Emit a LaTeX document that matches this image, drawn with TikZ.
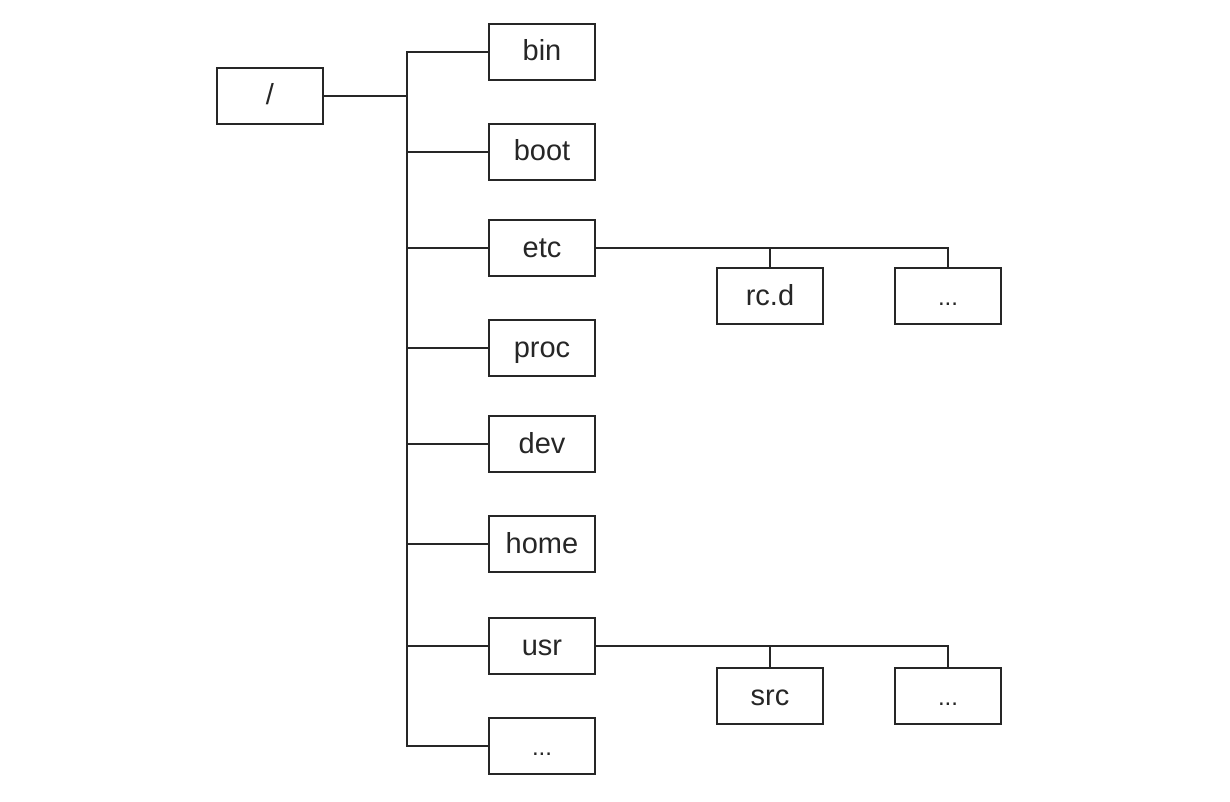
\documentclass[tikz,border=0pt]{standalone}
\usepackage{fontspec}
\setmainfont{Liberation Sans}
\begin{document}
\begin{tikzpicture}[x=1pt,y=-1pt,
  dir/.style={draw=black!85, line width=1.8pt, minimum width=106pt, minimum height=56pt, inner sep=0pt, text height=22pt, text depth=4pt, font=\fontsize{29}{32}\selectfont, text=black!85},
  more/.style={dir, font=\fontsize{24}{28}\selectfont},
  link/.style={draw=black!85, line width=1.8pt}]
\useasboundingbox (0,0) rectangle (1230,802);
\node[dir] (root) at (270,96) {/};
\node[dir] (bin) at (542,52) {bin};
\node[dir] (boot) at (542,152) {boot};
\node[dir] (etc) at (542,248) {etc};
\node[dir] (proc) at (542,348) {proc};
\node[dir] (dev) at (542,444) {dev};
\node[dir] (home) at (542,544) {home};
\node[dir] (usr) at (542,646) {usr};
\node[more] (dots) at (542,746) {...};
\node[dir] (rcd) at (770,296) {rc.d};
\node[more] (etcdots) at (948,296) {...};
\node[dir] (src) at (770,696) {src};
\node[more] (usrdots) at (948,696) {...};
\coordinate (trunk) at (407,96);
\draw[link] (root.east) -- (trunk);
\draw[link] (bin.west) -| (407,52) -- (407,746) -- (dots.west);
\foreach \n in {boot,etc,proc,dev,home,usr}
  \draw[link] (\n.west) -- (407,0 |- \n.west);
\draw[link] (etc.east) -| (etcdots.north);
\draw[link] (rcd.north) -- (rcd.north |- etc.east);
\draw[link] (usr.east) -| (usrdots.north);
\draw[link] (src.north) -- (src.north |- usr.east);
\end{tikzpicture}
\end{document}
